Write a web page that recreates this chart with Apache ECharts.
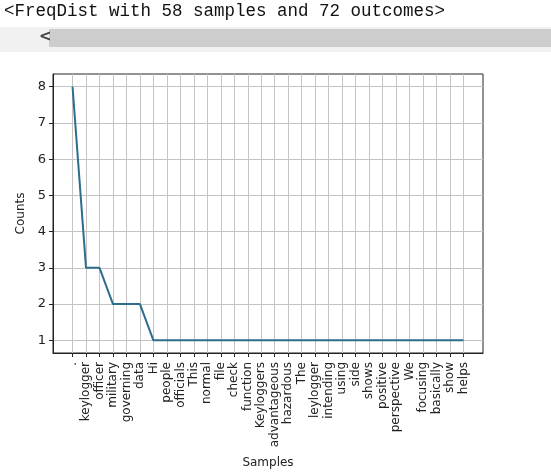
<!DOCTYPE html>
<html>
<head>
    <meta charset="utf-8">
    <script src="https://cdn.jsdelivr.net/npm/echarts@6/dist/echarts.min.js"></script>
</head>
<body style="margin:0;background:#fff">
<div id="main" style="width:551px;height:472px;"></div>
<script type="text/javascript">
// freq dist data (top 30)
var samples = ['.', 'keylogger', 'officer', 'military', 'governing', 'data', 'Hi', 'people',
    'officials', 'This', 'normal', 'file', 'check', 'function', 'Keyloggers', 'advantageous',
    'hazardous', 'The', 'leylogger', 'intending', 'using', 'side', 'shows', 'positive',
    'perspective', 'We', 'focusing', 'basically', 'show', 'helps'];
var counts = [8, 3, 3, 2, 2, 2, 1, 1, 1, 1, 1, 1, 1, 1, 1, 1, 1, 1, 1, 1, 1, 1, 1, 1, 1, 1, 1, 1, 1, 1];
var yTicks = [1, 2, 3, 4, 5, 6, 7, 8];
var headerText = '<FreqDist with 58 samples and 72 outcomes>';

var xTicks = [];
var points = [];
for (var i = 0; i < samples.length; i++) {
    xTicks.push(i);
    points.push([i, counts[i]]);
}

var chart = echarts.init(document.getElementById('main'));
chart.setOption({
    animation: false,
    textStyle: {fontFamily: 'DejaVu Sans'},
    graphic: [
        {type: 'rect', shape: {x: 0, y: 27, width: 551, height: 25}, style: {fill: '#f1f1f1'}},
        {type: 'rect', shape: {x: 49, y: 29, width: 502, height: 18}, style: {fill: '#cdcdcd'}},
        {type: 'text', left: 39, top: 30, style: {text: '<', fill: '#444', font: 'bold 15px DejaVu Sans'}},
        {type: 'text', left: 4, top: 2, style: {text: headerText, fill: '#111', font: '17.5px "Liberation Mono"'}}
    ],
    grid: {
        left: 53, right: 68, top: 74, bottom: 119,
        outerBoundsMode: 'none', containLabel: false,
        show: true, borderColor: '#222', borderWidth: 1
    },
    xAxis: {
        type: 'value',
        min: -1.45,
        max: 30.45,
        name: 'Samples',
        nameLocation: 'middle',
        nameGap: 104,
        nameTextStyle: {fontSize: 12, color: '#222'},
        axisLine: {show: true, onZero: false, lineStyle: {color: '#222'}},
        axisTick: {show: true, length: 4, customValues: xTicks, lineStyle: {color: '#222'}},
        axisLabel: {
            rotate: 90,
            fontSize: 12,
            color: '#222',
            margin: 9,
            customValues: xTicks,
            formatter: function (v) { return samples[v]; }
        },
        splitLine: {show: true, lineStyle: {color: '#c4c4c4', width: 1}}
    },
    yAxis: {
        type: 'value',
        min: 0.65,
        max: 8.35,
        name: 'Counts',
        nameLocation: 'middle',
        nameRotate: 90,
        nameGap: 25,
        nameTextStyle: {fontSize: 12, color: '#222'},
        axisLine: {show: true, onZero: false, lineStyle: {color: '#222'}},
        axisTick: {show: true, length: 4, customValues: yTicks, lineStyle: {color: '#222'}},
        axisLabel: {fontSize: 13, color: '#222', margin: 7, customValues: yTicks},
        splitLine: {show: true, lineStyle: {color: '#c4c4c4', width: 1}}
    },
    series: [{
        type: 'line',
        data: points,
        showSymbol: false,
        lineStyle: {color: '#2d6d8e', width: 2}
    }]
});
</script>
</body>
</html>
